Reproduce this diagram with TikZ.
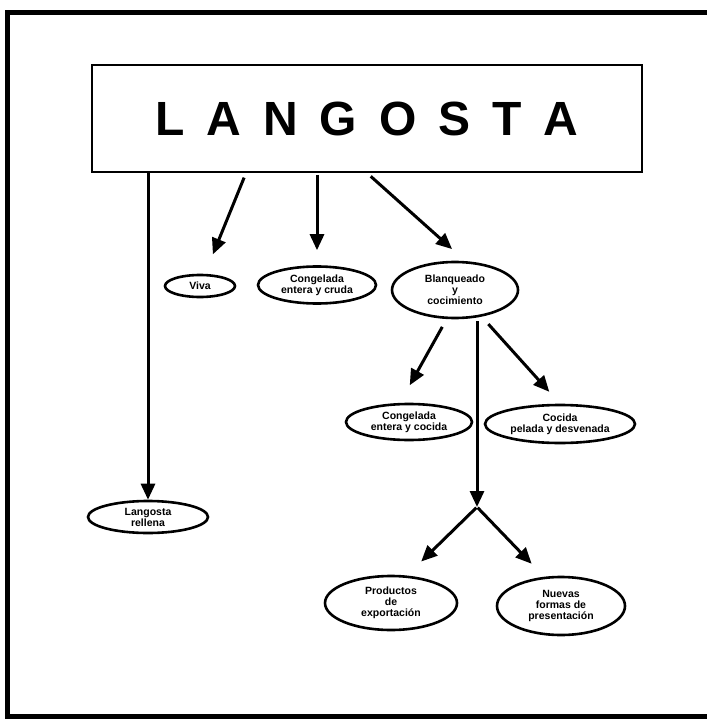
\documentclass[tikz,border=0pt]{standalone}
\usepackage{fontspec}
\setmainfont{Liberation Sans}
\usetikzlibrary{shapes.geometric,arrows.meta,positioning,calc}

\tikzset{
  producto/.style={draw=black, ellipse, line width=2.6pt, inner sep=0pt, align=center, font=\fontsize{10.5}{11}\selectfont\bfseries},
  flecha/.style={line width=3pt, -{Triangle[length=16pt,width=14pt]}},
}

\begin{document}
\begin{tikzpicture}[x=1pt,y=-1pt]
\useasboundingbox (0,0) rectangle (706,722);

% marco exterior, abierto a la derecha
\draw[line width=5pt] (712,13) -- (7,13) -- (7,716) -- (712,716);

\node[draw=black, line width=1.6pt, minimum width=550pt, minimum height=107pt, font=\fontsize{48}{48}\selectfont\bfseries] (titulo) at (367,118.5) {\spaceskip=22pt L A N G O S T A};

\node[producto, minimum width=70pt, minimum height=22pt] (viva) at (200,286) {Viva};
\node[producto, minimum width=118pt, minimum height=37pt] (cruda) at (317,285) {Congelada\\entera y cruda};
\node[producto, minimum width=126pt, minimum height=56pt] (blanqueo) at (455,290) {Blanqueado\\y\\cocimiento};

\node[producto, minimum width=126pt, minimum height=36pt] (cocidaentera) at (409,422) {Congelada\\entera y cocida};
\node[producto, minimum width=150pt, minimum height=38pt] (pelada) at (560,424) {Cocida\\pelada y desvenada};

\node[producto, minimum width=120pt, minimum height=32pt] (rellena) at (148,517) {Langosta\\rellena};

\node[producto, minimum width=132pt, minimum height=54pt] (exportacion) at (391,603) {Productos\\de\\exportación};
\node[producto, minimum width=128pt, minimum height=58pt] (nuevas) at (561,606) {Nuevas\\formas de\\presentación};

\coordinate (salviva) at (246,173);
\coordinate (salcruda) at (317,173);
\coordinate (salblanq) at (367,173);
\coordinate (bifurca) at (477,507);

\draw[flecha] (rellena |- titulo.south) -- (rellena);
\draw[flecha, shorten <=5pt, shorten >=21pt] (salviva) -- (viva);
\draw[flecha, shorten <=2pt, shorten >=15pt] (salcruda) -- (cruda);
\draw[flecha, shorten <=5pt, shorten >=18pt] (salblanq) -- (blanqueo.70);

\draw[flecha, shorten <=9pt, shorten >=20pt] (blanqueo.254) -- ([xshift=-9pt]cocidaentera.north);
\draw[flecha, shorten <=10pt, shorten >=16pt] (blanqueo.315) -- (pelada.north);
\draw[flecha, shorten <=2pt] (bifurca |- blanqueo.south) -- (bifurca);

\draw[flecha, shorten <=1pt, shorten >=20pt] (bifurca) -- (exportacion.60);
\draw[flecha, shorten <=1pt, shorten >=18pt] (bifurca) -- (nuevas.120);

\end{tikzpicture}
\end{document}
